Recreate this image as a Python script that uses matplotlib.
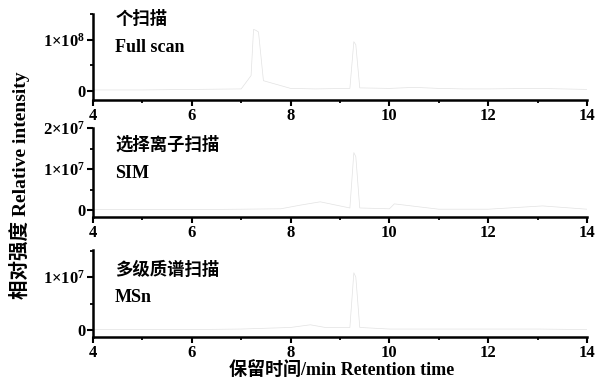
import matplotlib
matplotlib.use("Agg")
import matplotlib.pyplot as plt
from matplotlib.ticker import MultipleLocator, FixedLocator

plt.rcParams['font.family'] = ['Liberation Serif', 'Noto Sans CJK SC', 'DejaVu Sans']
plt.rcParams['font.weight'] = 'bold'
plt.rcParams['mathtext.fontset'] = 'custom'
plt.rcParams['mathtext.rm'] = 'Liberation Serif:bold'
plt.rcParams['mathtext.it'] = 'Liberation Serif:bold'
plt.rcParams['mathtext.bf'] = 'Liberation Serif:bold'

# ---- data (retention time in min, intensity in counts) ----
t_full = [4.0, 5.0, 6.0, 7.0, 7.2, 7.25, 7.3, 7.35, 7.45, 8.0, 8.5, 9.2, 9.28, 9.32, 9.4,
          10.0, 10.5, 11.0, 11.5, 12.0, 13.0, 14.0]
i_full = [0.02e8, 0.02e8, 0.03e8, 0.04e8, 0.3e8, 1.2e8, 1.18e8, 1.15e8, 0.2e8, 0.05e8, 0.04e8,
          0.05e8, 0.96e8, 0.9e8, 0.06e8, 0.05e8, 0.07e8, 0.05e8, 0.04e8, 0.04e8, 0.05e8, 0.03e8]

t_sim = [4.0, 5.0, 6.0, 7.0, 7.8, 8.2, 8.6, 9.2, 9.28, 9.32, 9.4, 10.0, 10.1, 11.0, 12.0, 13.1, 14.0]
i_sim = [0.01e7, 0.01e7, 0.01e7, 0.02e7, 0.03e7, 0.12e7, 0.2e7, 0.05e7, 1.4e7, 1.3e7, 0.05e7,
         0.03e7, 0.15e7, 0.02e7, 0.02e7, 0.1e7, 0.02e7]

t_msn = [4.0, 5.0, 6.0, 7.0, 8.0, 8.4, 8.7, 9.2, 9.28, 9.32, 9.4, 10.0, 11.0, 12.0, 13.0, 14.0]
i_msn = [0.01e7, 0.01e7, 0.01e7, 0.02e7, 0.05e7, 0.1e7, 0.05e7, 0.05e7, 1.08e7, 1.0e7, 0.05e7,
         0.02e7, 0.02e7, 0.02e7, 0.02e7, 0.01e7]

x_ticks = [4, 6, 8, 10, 12, 14]
titles_cn = ['个扫描', '选择离子扫描', '多级质谱扫描']
titles_en = ['Full scan', 'SIM', 'MSn']

W, H = 598, 379
fig = plt.figure(figsize=(W / 100, H / 100), dpi=100)

def ax_rect(top, bottom, left=93, right=587):
    return [left / W, 1 - bottom / H, (right - left) / W, (bottom - top) / H]

panels = [
    dict(rect=ax_rect(14, 100), t=t_full, i=i_full, ylim=(-0.176e8, 1.5e8),
         major=[0, 1e8], minor=0.5e8, labels=['0', r'1×10$^{8}$']),
    dict(rect=ax_rect(128, 217), t=t_sim, i=i_sim, ylim=(-0.17e7, 2.0e7),
         major=[0, 1e7, 2e7], minor=0.5e7, labels=['0', r'1×10$^{7}$', r'2×10$^{7}$']),
    dict(rect=ax_rect(250, 337), t=t_msn, i=i_msn, ylim=(-0.13e7, 1.51e7),
         major=[0, 1e7], minor=0.5e7, labels=['0', r'1×10$^{7}$']),
]

text_pos = [((116, 19), (115, 47)), ((115, 145), (115, 173)), ((115, 270), (115, 297))]

for k, p in enumerate(panels):
    ax = fig.add_axes(p['rect'])
    ax.plot(p['t'], p['i'], color='#e2e2e2', lw=0.5)
    ax.set_xlim(4, 14)
    ax.set_ylim(*p['ylim'])
    ax.spines['top'].set_visible(False)
    ax.spines['right'].set_visible(False)
    ax.spines['left'].set_linewidth(1.8)
    ax.spines['bottom'].set_linewidth(1.8)
    ax.xaxis.set_major_locator(FixedLocator(x_ticks))
    ax.xaxis.set_minor_locator(MultipleLocator(1))
    ax.set_xticklabels([str(v) for v in x_ticks])
    ax.yaxis.set_major_locator(FixedLocator(p['major']))
    ax.yaxis.set_minor_locator(MultipleLocator(p['minor']))
    ax.set_yticklabels(p['labels'])
    ax.tick_params(axis='both', which='major', direction='out', length=4, width=1.5,
                   labelsize=12, pad=1.5)
    ax.tick_params(axis='both', which='minor', direction='out', length=2.5, width=1.3)
    for lab in ax.get_xticklabels() + ax.get_yticklabels():
        lab.set_fontweight('bold')
    (cx, cy), (ex, ey) = text_pos[k]
    fig.text(cx / W, 1 - cy / H, titles_cn[k], fontsize=12.5, va='center', ha='left',
             family=['Noto Sans CJK SC', 'Liberation Serif'], fontweight='bold')
    fig.text(ex / W, 1 - ey / H, titles_en[k], fontsize=13, va='center', ha='left',
             fontweight='bold')

fig.text(20 / W, 1 - 185 / H, '相对强度 Relative intensity', rotation=90, fontsize=14,
         va='center', ha='center', family=['Liberation Serif', 'Noto Sans CJK SC'],
         fontweight='bold')
fig.text(342 / W, 1 - 370 / H, '保留时间/min Retention time', fontsize=13,
         va='center', ha='center', family=['Liberation Serif', 'Noto Sans CJK SC'],
         fontweight='bold')

fig.savefig('out.png', dpi=100)
